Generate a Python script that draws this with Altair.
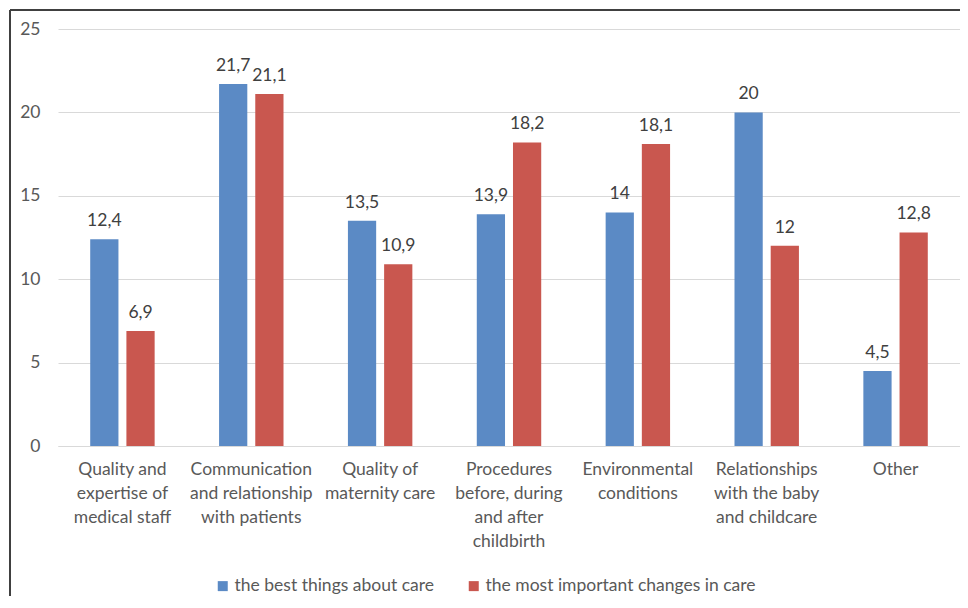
import altair as alt
import pandas as pd

categories = [
    "Quality and\nexpertise of\nmedical staff",
    "Communication\nand relationship\nwith patients",
    "Quality of\nmaternity care",
    "Procedures\nbefore, during\nand after\nchildbirth",
    "Environmental\nconditions",
    "Relationships\nwith the baby\nand childcare",
    "Other",
]
series_names = ["the best things about care", "the most important changes in care"]
best_things = [12.4, 21.7, 13.5, 13.9, 14.0, 20.0, 4.5]
important_changes = [6.9, 21.1, 10.9, 18.2, 18.1, 12.0, 12.8]
colors = ["#5B8AC5", "#C9574F"]

rows = []
for i, c in enumerate(categories):
    for s, vals in zip(series_names, [best_things, important_changes]):
        v = vals[i]
        lab = ("%g" % v).replace(".", ",")
        rows.append({"category": c, "series": s, "value": v, "label": lab})
df = pd.DataFrame(rows)

FONT = "Lato"
FS = 17.5
W, H = 903, 417

x = alt.X("category:N", sort=categories,
          scale=alt.Scale(paddingInner=0.5, paddingOuter=0.25),
          axis=alt.Axis(title=None, labelAngle=0, ticks=False, domainColor="#d9d9d9",
                        labelExpr="split(datum.label, '\\n')", labelFont=FONT,
                        labelFontSize=FS, labelColor="#595959", labelPadding=14,
                        labelLineHeight=24, labelBaseline="top", labelLimit=250))
xo = alt.XOffset("series:N", sort=series_names,
                 scale=alt.Scale(paddingInner=0.22, paddingOuter=0))
y = alt.Y("value:Q", scale=alt.Scale(domain=[0, 25]),
          axis=alt.Axis(title=None, values=[0, 5, 10, 15, 20, 25], domain=False, ticks=False,
                        gridColor="#d9d9d9", labelFont=FONT, labelFontSize=FS,
                        labelColor="#595959", labelPadding=18))
color = alt.Color("series:N", sort=series_names,
                  scale=alt.Scale(domain=series_names, range=colors),
                  legend=alt.Legend(title=None, orient="none", direction="horizontal",
                                    legendX=156, legendY=548, symbolType="square",
                                    symbolSize=100, symbolStrokeWidth=0, columnPadding=30,
                                    labelFont=FONT, labelFontSize=FS, labelColor="#595959",
                                    labelOffset=3, labelLimit=0))

base = alt.Chart(df)
bars = base.mark_bar().encode(x=x, xOffset=xo, y=y, color=color)
texts = base.mark_text(baseline="bottom", dy=-9, font=FONT, fontSize=FS,
                       color="#404040").encode(x=x, xOffset=xo, y=y, text="label:N")

border_left = alt.Chart(df).mark_rule(color="#404040", strokeWidth=1.5).encode(
    x=alt.value(-48), y=alt.value(-19), y2=alt.value(600))
border_top = alt.Chart(df).mark_rule(color="#404040", strokeWidth=1.5).encode(
    x=alt.value(-48), x2=alt.value(920), y=alt.value(-19))

chart = alt.layer(bars, texts, border_left, border_top).properties(
    width=W - 1, height=H,
    autosize=alt.AutoSizeParams(type="none"),
    padding={"left": 50, "top": 21, "right": 0, "bottom": 150},
).configure_view(stroke=None).configure_axis(grid=True)
chart = chart.configure_axisX(grid=False)

chart.save("out.html", embed_options={"renderer": "svg", "actions": False})
